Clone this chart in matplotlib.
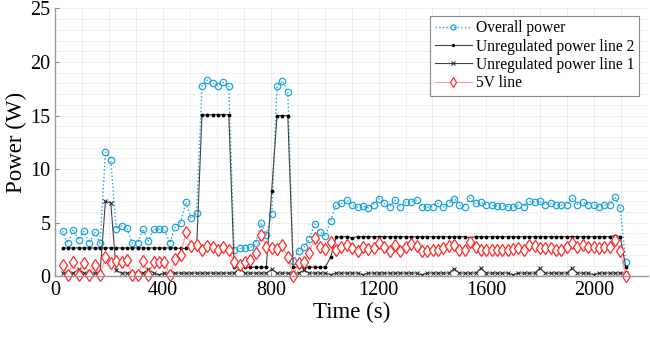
import numpy as np
import matplotlib
matplotlib.use("Agg")
import matplotlib.pyplot as plt
from matplotlib.ticker import MultipleLocator

# sample times (s), 106 samples ~19.9 s apart
time = np.linspace(27, 2117, 106)

overall_power = [
    4.2, 3.1, 4.35, 3.4, 4.2, 3.1, 4.1, 3.1, 11.6, 10.9,
    4.4, 4.7, 4.5, 3.1, 3.1, 4.4, 3.3, 4.4, 4.4, 4.4,
    3.1, 4.6, 5.0, 6.9, 5.4, 5.9, 17.8, 18.3, 18.05, 17.8,
    18.1, 17.8, 2.5, 2.6, 2.6, 2.7, 3.1, 5.0, 3.9, 5.8,
    17.75, 18.25, 17.2, 1.4, 2.4, 2.7, 3.45, 4.9, 4.1, 3.75,
    5.2, 6.7, 6.8, 7.1, 6.7, 6.45, 6.55, 6.4, 6.7, 7.25,
    6.8, 6.5, 7.1, 6.5, 6.9, 6.9, 7.1, 6.5, 6.45, 6.5,
    6.8, 6.45, 6.8, 7.25, 6.65, 6.5, 7.3, 6.8, 6.9, 6.7,
    6.65, 6.6, 6.6, 6.5, 6.45, 6.65, 6.5, 7.0, 6.9, 7.0,
    6.65, 6.8, 6.7, 6.65, 6.65, 7.3, 6.7, 6.9, 6.7, 6.7,
    6.5, 6.65, 6.7, 7.4, 6.4, 1.3,
]

unreg_line2 = [
    2.65, 2.65, 2.65, 2.65, 2.65, 2.65, 2.65, 2.65, 2.65, 2.65,
    2.65, 2.65, 2.65, 2.65, 2.65, 2.65, 2.65, 2.65, 2.65, 2.65,
    2.65, 2.65, 2.6, 2.6, 2.6, 2.6, 15.1, 15.05, 15.1, 15.1,
    15.1, 15.1, 0.85, 0.85, 0.85, 0.85, 0.85, 0.85, 0.85, 8.0,
    15.0, 15.0, 15.0, 0.85, 0.85, 0.85, 0.85, 0.85, 0.85, 0.85,
    1.8, 3.65, 3.7, 3.7, 3.6, 3.7, 3.7, 3.7, 3.7, 3.7,
    3.7, 3.7, 3.7, 3.7, 3.7, 3.7, 3.7, 3.7, 3.7, 3.7,
    3.7, 3.7, 3.7, 3.7, 3.7, 3.7, 3.6, 3.7, 3.7, 3.7,
    3.7, 3.7, 3.7, 3.7, 3.7, 3.7, 3.7, 3.7, 3.7, 3.7,
    3.7, 3.7, 3.7, 3.7, 3.7, 3.7, 3.7, 3.7, 3.7, 3.7,
    3.7, 3.7, 3.7, 3.8, 3.7, 0.85,
]

unreg_line1 = [
    0.3, 0.3, 0.3, 0.65, 0.3, 0.3, 0.3, 0.3, 7.0, 6.85,
    0.55, 0.3, 0.3, 0.3, 0.3, 0.3, 0.65, 0.3, 0.15, 0.3,
    0.3, 0.3, 0.3, 0.3, 0.3, 0.3, 0.3, 0.3, 0.3, 0.3,
    0.3, 0.3, 0.3, 0.75, 0.3, 0.3, 0.3, 0.3, 0.3, 0.65,
    0.3, 0.3, 0.3, 0.3, 0.3, 0.55, 0.3, 0.3, 0.3, 0.3,
    0.15, 0.3, 0.3, 0.3, 0.3, 0.3, 0.15, 0.3, 0.3, 0.3,
    0.3, 0.3, 0.3, 0.3, 0.3, 0.3, 0.3, 0.15, 0.3, 0.3,
    0.3, 0.3, 0.3, 0.7, 0.3, 0.3, 0.3, 0.3, 0.75, 0.3,
    0.3, 0.3, 0.3, 0.3, 0.15, 0.3, 0.3, 0.3, 0.3, 0.75,
    0.3, 0.3, 0.3, 0.3, 0.3, 0.75, 0.3, 0.3, 0.3, 0.15,
    0.3, 0.3, 0.3, 0.3, 0.3, 0.3,
]

line_5v = [
    1.1, 0.1, 1.3, 0.1, 1.2, 0.1, 1.1, 0.1, 1.8, 1.2,
    1.45, 1.35, 1.5, 0.1, 0.1, 1.4, 0.1, 1.35, 1.35, 1.35,
    0.1, 1.6, 2.0, 4.1, 2.8, 2.9, 2.45, 2.8, 2.7, 2.5,
    2.7, 2.45, 1.35, 1.05, 1.35, 1.55, 2.15, 3.85, 2.75, 2.6,
    2.55, 2.9, 1.8, 0.0, 1.2, 1.35, 2.2, 3.55, 2.75, 2.55,
    3.2, 2.5, 2.75, 2.9, 2.6, 2.4, 2.75, 2.55, 2.6, 3.1,
    2.75, 2.4, 2.9, 2.4, 2.75, 3.0, 2.8, 2.4, 2.4, 2.5,
    2.45, 2.6, 2.8, 2.9, 2.5, 2.5, 3.2, 2.7, 2.5, 2.45,
    2.5, 2.45, 2.5, 2.5, 2.55, 2.6, 2.5, 2.9, 2.8, 2.6,
    2.6, 2.6, 2.5, 2.5, 2.7, 3.1, 2.7, 2.9, 2.7, 2.7,
    2.6, 2.7, 2.7, 3.4, 2.4, 0.0,
]

plt.rcParams['font.family'] = ['Liberation Serif', 'DejaVu Serif']

fig = plt.figure(figsize=(6.5, 3.39), dpi=100)
ax = fig.add_axes([0.085, 0.185, 0.912, 0.79])

blue = '#1FA4DC'
red = '#FF2B2B'

ax.plot(time, overall_power, ':', color=blue, lw=1.0, marker='o', ms=4.6,
        mfc='none', mec=blue, mew=0.9, label='Overall power', clip_on=False)
ax.plot(time, unreg_line2, '-', color='#444444', lw=0.8, marker='.', ms=3.5,
        mfc='black', mec='black', label='Unregulated power line 2')
ax.plot(time, unreg_line1, '-', color='#444444', lw=0.8, marker='x', ms=3.2,
        mec='#222222', mew=0.7, label='Unregulated power line 1')
ax.plot(time, line_5v, '-', color='#FF9A9A', lw=0.8, marker='d', ms=6.0,
        mfc='white', mec=red, mew=0.9, label='5V line', clip_on=False)

ax.set_xlim(0, 2200)
ax.set_ylim(0, 25)
ax.set_xticks([0, 400, 800, 1200, 1600, 2000])
ax.set_yticks([0, 5, 10, 15, 20, 25])
ax.xaxis.set_minor_locator(MultipleLocator(100))
ax.yaxis.set_minor_locator(MultipleLocator(1))
ax.grid(True, which='both', color='#ECECEC', lw=0.6)
ax.set_axisbelow(True)
ax.tick_params(which='both', direction='in', labelsize=14.5, colors='#888888',
               length=3)
ax.tick_params(which='minor', length=0)
ax.tick_params(labelcolor='black')
ax.spines['top'].set_visible(False)
ax.spines['right'].set_visible(False)
for s in ('left', 'bottom'):
    ax.spines[s].set_color('#999999')
    ax.spines[s].set_linewidth(1.0)

ax.set_xlabel('Time (s)', fontsize=16.5, labelpad=1)
ax.set_ylabel('Power (W)', fontsize=16.5, labelpad=2)

leg = ax.legend(loc='upper right', fontsize=11.2, frameon=True, fancybox=False,
                framealpha=1, edgecolor='#888888', handlelength=2.4,
                borderpad=0.3, labelspacing=0.15, handletextpad=0.25,
                borderaxespad=0.2, markerscale=0.8,
                bbox_to_anchor=(0.99, 0.985))
leg.get_frame().set_linewidth(0.8)

fig.savefig('out.png', dpi=100)
